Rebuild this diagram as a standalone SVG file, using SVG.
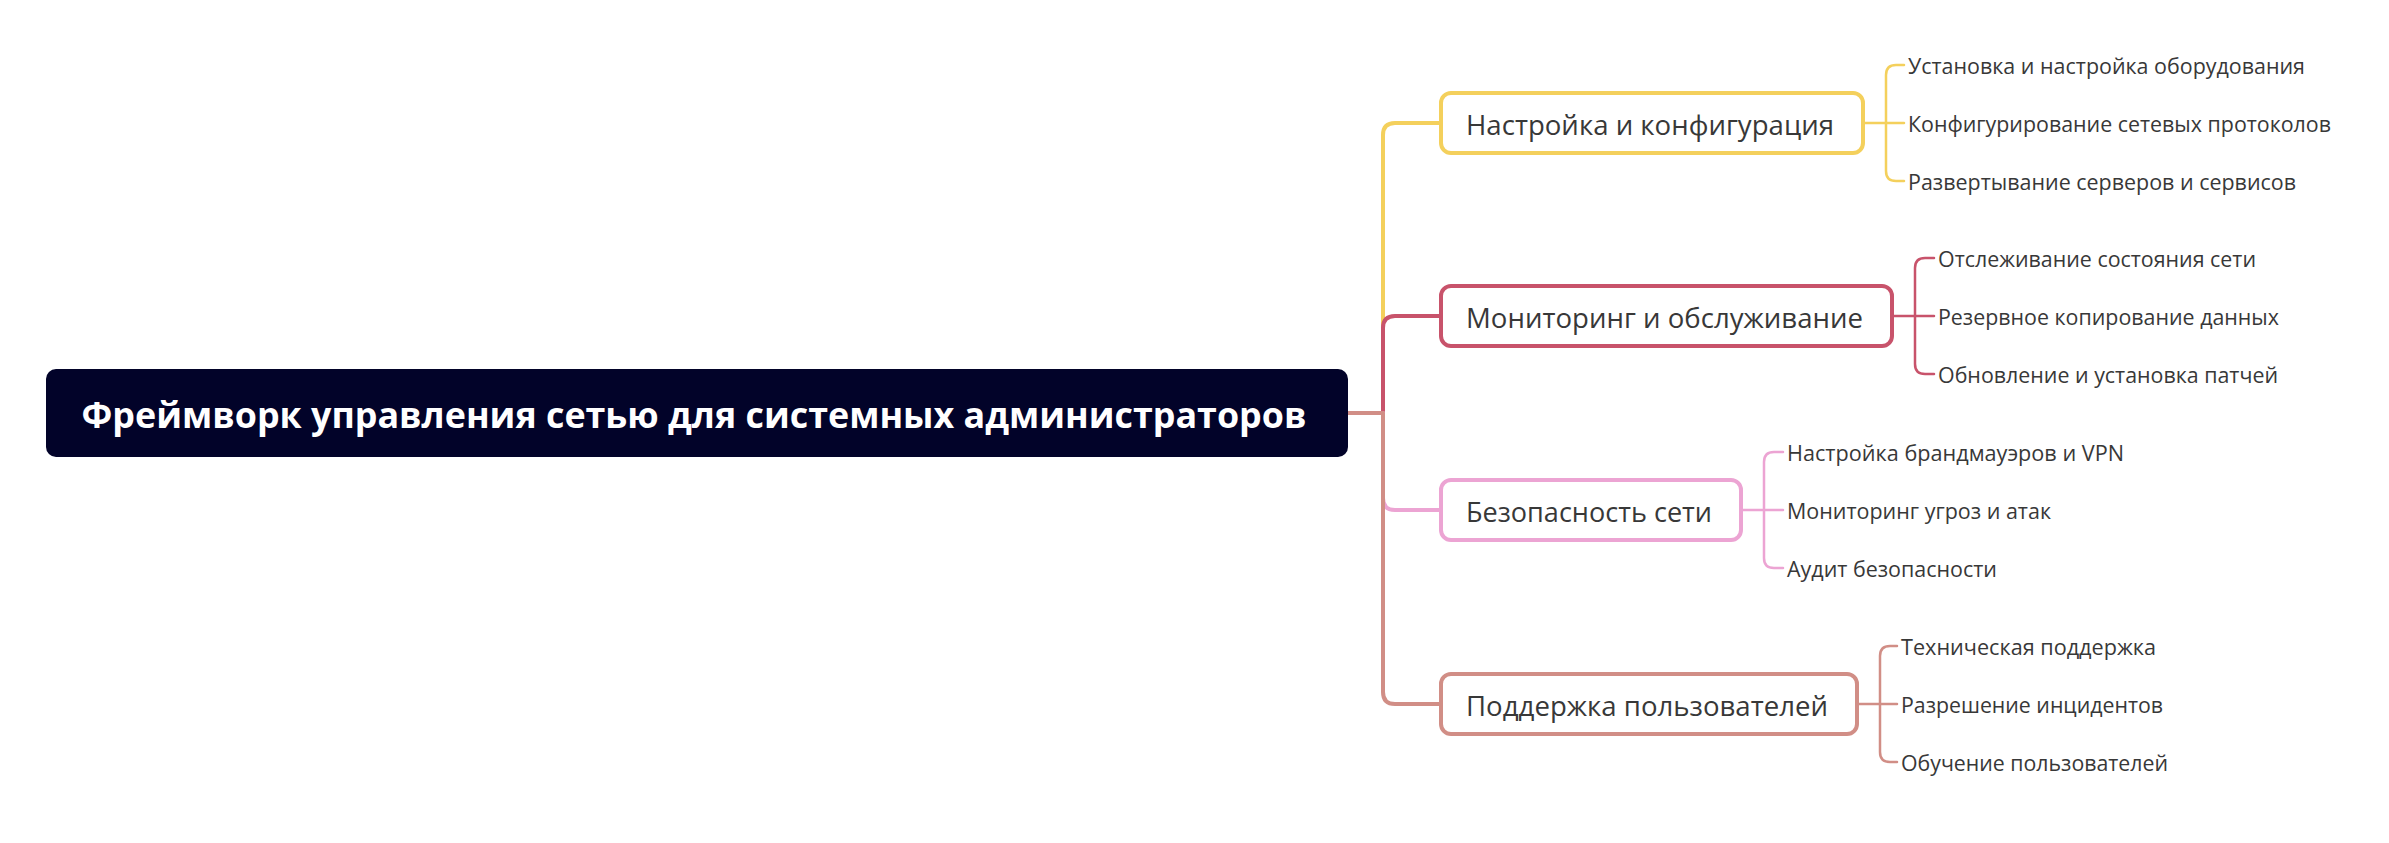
<svg xmlns="http://www.w3.org/2000/svg" width="2389" height="843" viewBox="0 0 2389 843">
<style>
text{font-family:"Open Sans","Noto Sans","Liberation Sans",sans-serif;fill:#383838;dominant-baseline:central}
.root-t{fill:#ffffff;font-weight:700;font-size:35px}
.br-t{font-size:27px}
.lf-t{font-size:21px}
.box{fill:#ffffff;stroke-width:4}
.conn{fill:none;stroke-width:4;stroke-linecap:round;stroke-linejoin:round}
.brk{fill:none;stroke-width:2.5;stroke-linecap:round;stroke-linejoin:round}
.c1{stroke:#F4D05C}.c2{stroke:#C8536B}.c3{stroke:#ECA4D3}.c4{stroke:#D18E86}
</style>
<rect width="2389" height="843" fill="#ffffff"/>
<g id="connectors">
<path class="conn c1" d="M1348 413 H1383 V135 Q1383 123 1395 123 H1441"/>
<path class="conn c2" d="M1348 413 H1383 V328 Q1383 316 1395 316 H1441"/>
<path class="conn c3" d="M1348 413 H1383 V498 Q1383 510 1395 510 H1441"/>
<path class="conn c4" d="M1348 413 H1383 V692 Q1383 704 1395 704 H1441"/>
<path class="brk c1" d="M1863 123 H1904 M1904 65 H1896 Q1886 65 1886 75 V171 Q1886 181 1896 181 H1904"/>
<path class="brk c2" d="M1892 316 H1934 M1934 258 H1925 Q1915 258 1915 268 V364 Q1915 374 1925 374 H1934"/>
<path class="brk c3" d="M1741 510 H1783 M1783 452 H1774 Q1764 452 1764 462 V558 Q1764 568 1774 568 H1783"/>
<path class="brk c4" d="M1857 704 H1897 M1897 646 H1890 Q1880 646 1880 656 V752 Q1880 762 1890 762 H1897"/>
</g>
<g id="root">
<rect x="46" y="369" width="1302" height="88" rx="10" fill="#020329"/>
<text class="root-t" x="694" y="414" text-anchor="middle" textLength="1225" lengthAdjust="spacingAndGlyphs">Фреймворк управления сетью для системных администраторов</text>
</g>
<g id="b1">
<rect class="box c1" x="1441" y="93" width="422" height="60" rx="10"/>
<text class="br-t" x="1466" y="124" textLength="368" lengthAdjust="spacingAndGlyphs">Настройка и конфигурация</text>
</g>
<g id="b1-l1"><text class="lf-t" x="1908" y="66" textLength="397" lengthAdjust="spacingAndGlyphs">Установка и настройка оборудования</text></g>
<g id="b1-l2"><text class="lf-t" x="1908" y="124" textLength="423" lengthAdjust="spacingAndGlyphs">Конфигурирование сетевых протоколов</text></g>
<g id="b1-l3"><text class="lf-t" x="1908" y="182" textLength="388" lengthAdjust="spacingAndGlyphs">Развертывание серверов и сервисов</text></g>
<g id="b2">
<rect class="box c2" x="1441" y="286" width="451" height="60" rx="10"/>
<text class="br-t" x="1466" y="317" textLength="397" lengthAdjust="spacingAndGlyphs">Мониторинг и обслуживание</text>
</g>
<g id="b2-l1"><text class="lf-t" x="1938" y="259" textLength="318" lengthAdjust="spacingAndGlyphs">Отслеживание состояния сети</text></g>
<g id="b2-l2"><text class="lf-t" x="1938" y="317" textLength="341" lengthAdjust="spacingAndGlyphs">Резервное копирование данных</text></g>
<g id="b2-l3"><text class="lf-t" x="1938" y="375" textLength="340" lengthAdjust="spacingAndGlyphs">Обновление и установка патчей</text></g>
<g id="b3">
<rect class="box c3" x="1441" y="480" width="300" height="60" rx="10"/>
<text class="br-t" x="1466" y="511" textLength="246" lengthAdjust="spacingAndGlyphs">Безопасность сети</text>
</g>
<g id="b3-l1"><text class="lf-t" x="1787" y="453" textLength="337" lengthAdjust="spacingAndGlyphs">Настройка брандмауэров и VPN</text></g>
<g id="b3-l2"><text class="lf-t" x="1787" y="511" textLength="264" lengthAdjust="spacingAndGlyphs">Мониторинг угроз и атак</text></g>
<g id="b3-l3"><text class="lf-t" x="1787" y="569" textLength="210" lengthAdjust="spacingAndGlyphs">Аудит безопасности</text></g>
<g id="b4">
<rect class="box c4" x="1441" y="674" width="416" height="60" rx="10"/>
<text class="br-t" x="1466" y="705" textLength="362" lengthAdjust="spacingAndGlyphs">Поддержка пользователей</text>
</g>
<g id="b4-l1"><text class="lf-t" x="1901" y="647" textLength="255" lengthAdjust="spacingAndGlyphs">Техническая поддержка</text></g>
<g id="b4-l2"><text class="lf-t" x="1901" y="705" textLength="262" lengthAdjust="spacingAndGlyphs">Разрешение инцидентов</text></g>
<g id="b4-l3"><text class="lf-t" x="1901" y="763" textLength="267" lengthAdjust="spacingAndGlyphs">Обучение пользователей</text></g>
</svg>
